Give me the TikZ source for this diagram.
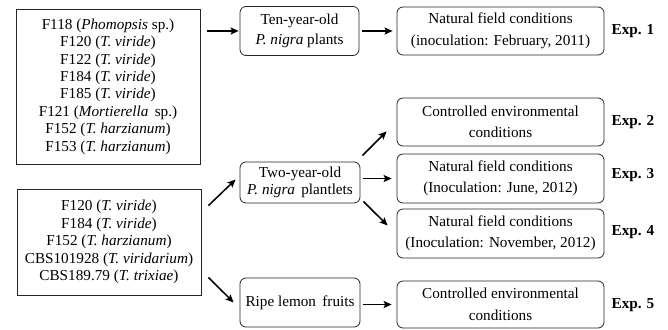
\documentclass[tikz,border=0pt]{standalone}
\usepackage{fontspec}
\setmainfont{Liberation Serif}
\usetikzlibrary{arrows.meta}
\begin{document}
\begin{tikzpicture}[x=1pt,y=-1pt,
  listbox/.style={draw=black!85,line width=0.8pt,align=center,inner sep=0pt,
    font=\fontsize{15.2}{17.4}\selectfont},
  rbox/.style={draw=black!85,line width=0.8pt,rounded corners=6pt,align=center,inner sep=0pt,
    font=\fontsize{15.2}{20}\selectfont},
  ebox/.style={draw=black!85,line width=0.8pt,rounded corners=6pt,align=center,inner sep=0pt,
    minimum width=207pt,minimum height=48pt,font=\fontsize{15.2}{21.5}\selectfont},
  explab/.style={font=\fontsize{15.2}{18}\selectfont\bfseries,inner sep=0pt},
  arr/.style={-{Stealth[length=8pt,width=7pt,inset=1.5pt]},line width=1.5pt}]
\useasboundingbox (0,0) rectangle (668,329);
% left lists
\node[listbox,minimum width=184pt,minimum height=155pt] (A) at (108,86.5)
  {F118 (\textit{Phomopsis} sp.)\\F120 (\textit{T. viride})\\F122 (\textit{T. viride})\\
   F184 (\textit{T. viride})\\F185 (\textit{T. viride})\\F121 (\textit{Mortierella}\, sp.)\\
   F152 (\textit{T. harzianum})\\F153 (\textit{T. harzianum})};
\node[listbox,minimum width=184pt,minimum height=106pt] (B) at (109,242)
  {F120 (\textit{T. viride})\\F184 (\textit{T. viride})\\F152 (\textit{T. harzianum})\\
   CBS101928 (\textit{T. viridarium})\\CBS189.79 (\textit{T. trixiae})};
% middle
\node[rbox,minimum width=119pt,minimum height=49pt] (Ten) at (299.5,31)
  {Ten-year-old\\\textit{P. nigra} plants};
\node[rbox,minimum width=120pt,minimum height=41pt,font=\fontsize{15.2}{17.5}\selectfont] (Two) at (300,182.5)
  {Two-year-old\\\textit{P. nigra}\, plantlets};
\node[rbox,minimum width=120pt,minimum height=49pt] (Ripe) at (300,302.5)
  {Ripe lemon\, fruits};
% right
\node[ebox] (E1) at (500.5,31) {Natural field conditions\\(inoculation: February, 2011)};
\node[ebox] (E2) at (500.5,122) {Controlled environmental\\conditions};
\node[ebox,minimum height=49pt] (E3) at (500.5,178.5) {Natural field conditions\\(Inoculation: June, 2012)};
\node[ebox,minimum height=49pt] (E4) at (500.5,233.5) {Natural field conditions\\(Inoculation: November, 2012)};
\node[ebox,minimum height=47pt] (E5) at (500.5,304.5) {Controlled environmental\\conditions};
% labels
\node[explab] (L1) at (633,31) {Exp. 1};
\node[explab] (L2) at (633,122) {Exp. 2};
\node[explab] (L3) at (633,175) {Exp. 3};
\node[explab] (L4) at (633,232) {Exp. 4};
\node[explab] (L5) at (633,305) {Exp. 5};
% arrows
\draw[arr] ([xshift=7pt]A.east |- Ten.west) -- ([xshift=-1pt]Ten.west);
\draw[arr] ([xshift=3pt]Ten.east |- E1.west) -- ([xshift=-4pt]E1.west);
\draw[arr] ([shift={(7,17)}]B.north east) -- ([shift={(-4,-3)}]Two.west);
\draw[arr] ([shift={(7,-18)}]B.south east) -- ([shift={(-6,0)}]Ripe.west);
\draw[arr] ([shift={(2,-6)}]Two.north east) -- ([shift={(-10,-15)}]E2.south west);
\draw[arr] ([xshift=3pt]Two.east |- E3.west) -- ([xshift=-5pt]E3.west);
\draw[arr] ([shift={(3,-2)}]Two.south east) -- ([shift={(-9,-8)}]E4.west);
\draw[arr] ([xshift=3pt]Ripe.east |- E5.west) -- ([xshift=-5pt]E5.west);
\end{tikzpicture}
\end{document}
